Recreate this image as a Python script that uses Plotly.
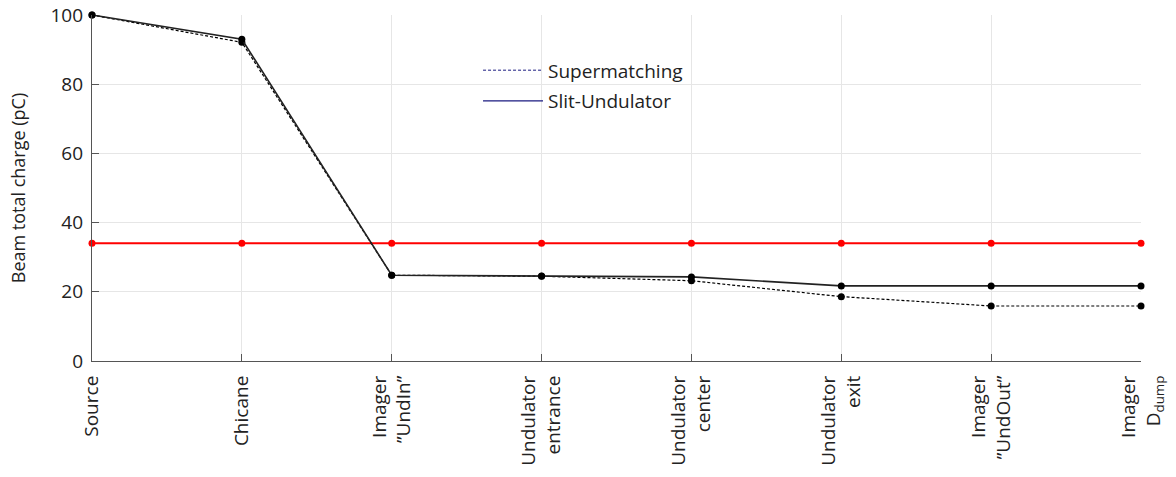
import plotly.graph_objects as go

# stations along the beamline
stations = ["Source", "Chicane", "Imager<br>”UndIn”", "Undulator<br>entrance",
            "Undulator<br>center", "Undulator<br>exit", "Imager<br>”UndOut”",
            "Imager<br>D<sub>dump</sub>"]

# beam total charge (pC)
supermatching = [100, 92.1, 24.8, 24.5, 23.2, 18.6, 15.9, 15.9]
slit_undulator = [100, 93.0, 24.8, 24.6, 24.3, 21.7, 21.7, 21.7]
threshold = [34, 34, 34, 34, 34, 34, 34, 34]

x = list(range(len(stations)))

fig = go.Figure()

# threshold line (red)
fig.add_trace(go.Scatter(
    x=x, y=threshold, mode='lines+markers',
    line=dict(color='#ff0000', width=2),
    marker=dict(color='#ff0000', size=7),
    showlegend=False, cliponaxis=False
))

fig.add_trace(go.Scatter(
    x=x, y=supermatching, mode='lines+markers',
    line=dict(color='black', width=1.2, dash='3px,2px'),
    marker=dict(color='black', size=7),
    showlegend=False, cliponaxis=False
))
fig.add_trace(go.Scatter(
    x=x, y=slit_undulator, mode='lines+markers',
    line=dict(color='#222222', width=1.6),
    marker=dict(color='black', size=7),
    showlegend=False, cliponaxis=False
))

# legend entries drawn in navy like the original
fig.add_trace(go.Scatter(
    x=[None], y=[None], mode='lines', name='Supermatching', legendgroup='a',
    line=dict(color='#1a1a80', width=1, dash='3px,2px')
))
fig.add_trace(go.Scatter(
    x=[None], y=[None], mode='lines', name='Slit-Undulator', legendgroup='b',
    line=dict(color='#1a1a80', width=1.2)
))

fig.update_layout(
    width=1176, height=477,
    margin=dict(l=92, r=35, t=15, b=116),
    plot_bgcolor='white', paper_bgcolor='white',
    font=dict(family='Open Sans', size=19, color='#222222'),
    legend=dict(x=0.368, y=0.895, xanchor='left', yanchor='top',
                bgcolor='rgba(0,0,0,0)', itemwidth=60,
                font=dict(size=19), tracegroupgap=3),
)
fig.update_xaxes(
    tickmode='array', tickvals=x, ticktext=stations, tickangle=-90,
    range=[0, len(stations) - 1], automargin=False, ticklabeloverflow='allow',
    showgrid=True, gridcolor='#e6e6e6', gridwidth=1,
    showline=True, linecolor='#555555', linewidth=1.2,
    ticks='inside', ticklen=7, tickcolor='#555555',
    zeroline=False, tickfont=dict(size=19), ticklabelstandoff=6,
)
fig.update_yaxes(
    range=[0, 100], tickvals=[0, 20, 40, 60, 80, 100], automargin=False,
    ticklabeloverflow='allow',
    title=dict(text='Beam total charge (pC)', font=dict(size=18), standoff=20),
    showgrid=True, gridcolor='#e6e6e6', gridwidth=1,
    showline=True, linecolor='#555555', linewidth=1.2,
    ticks='inside', ticklen=7, tickcolor='#555555',
    zeroline=False, tickfont=dict(size=19), ticklabelstandoff=4,
)

# drop the browser's default body margin so the figure fills the window
fig.write_html("out.html", config={'displayModeBar': False},
               post_script="document.body.style.margin='0';")
